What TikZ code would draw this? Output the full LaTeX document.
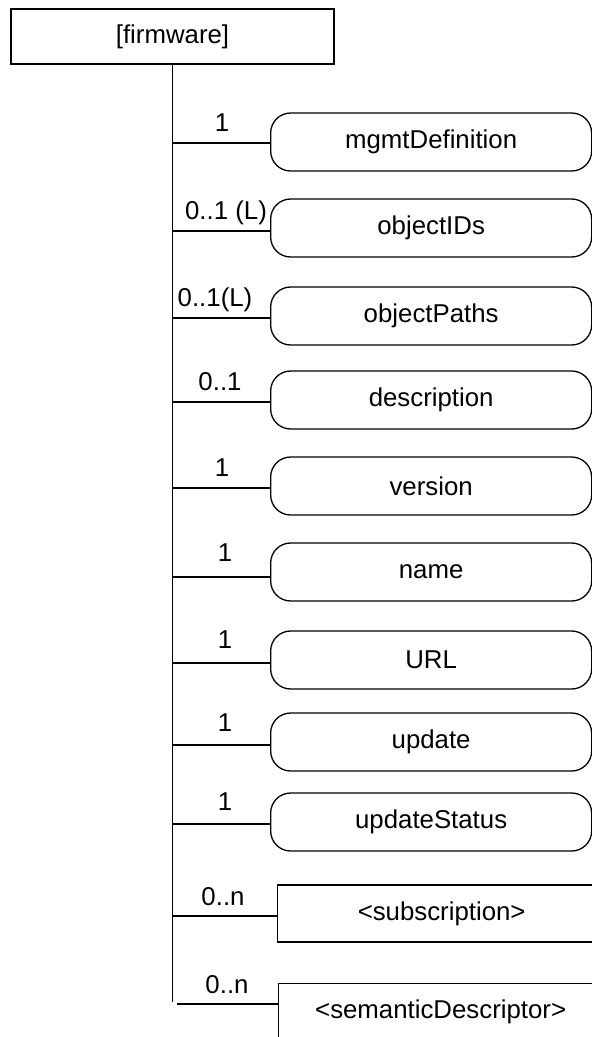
\documentclass[tikz,border=0pt]{standalone}
\usepackage{fontspec}
\setmainfont{Liberation Sans}
\begin{document}
\begin{tikzpicture}[x=1pt,y=-1pt,line width=1.3pt,
  every node/.style={font=\fontsize{25.8}{30}\selectfont},
  rbox/.style={draw,rounded corners=20pt,minimum width=321pt,minimum height=58pt,inner sep=0pt,anchor=west},
  sbox/.style={draw,minimum height=57pt,inner sep=0pt,anchor=west},
  mult/.style={anchor=base,inner sep=0pt}]
\useasboundingbox (0,0) rectangle (592,1037);
\clip (0,0) rectangle (592,1037);

\node[draw,minimum width=323pt,minimum height=55pt,inner sep=0pt] (fw) at (172.5,36.5) {[firmware]};
\coordinate (tend) at (172,1002);
\draw (fw.south) -- (fw.south |- tend);

% rows
\node[rbox] (m1) at (270,142) {mgmtDefinition};
\node[rbox] (m2) at (270,228) {objectIDs};
\node[rbox] (m3) at (270,316) {objectPaths};
\node[rbox] (m4) at (270,400) {description};
\node[rbox] (m5) at (270,486) {version};
\node[rbox] (m6) at (270,572) {name};
\node[rbox] (m7) at (270,660) {URL};
\node[rbox] (m8) at (270,742) {update};
\node[rbox] (m9) at (270,822) {updateStatus};
\node[sbox,minimum width=328pt] (s1) at (277,913.5) {{<}subscription{>}};
\node[sbox,minimum width=324pt] (s2) at (278,1012) {{<}semanticDescriptor{>}};

\coordinate (t1) at (172,143);
\coordinate (t2) at (172,231);
\coordinate (t3) at (172,318);
\coordinate (t4) at (172,402);
\coordinate (t5) at (172,488);
\coordinate (t6) at (172,577);
\coordinate (t7) at (172,663);
\coordinate (t8) at (172,745);
\coordinate (t9) at (172,824);
\coordinate (t10) at (172,916);
\coordinate (t11) at (177,1004);

\draw (t1) -- (t1 -| m1.west);
\draw (t2) -- (t2 -| m2.west);
\draw (t3) -- (t3 -| m3.west);
\draw (t4) -- (t4 -| m4.west);
\draw (t5) -- (t5 -| m5.west);
\draw (t6) -- (t6 -| m6.west);
\draw (t7) -- (t7 -| m7.west);
\draw (t8) -- (t8 -| m8.west);
\draw (t9) -- (t9 -| m9.west);
\draw (t10) -- (t10 -| s1.west);
\draw (t11) -- (t11 -| s2.west);

\node[mult] (l1) at (222,131) {1};
\node[mult] (l2) at (226,219) {0..1 (L)};
\node[mult] (l3) at (215,306) {0..1(L)};
\node[mult] (l4) at (220,390) {0..1};
\node[mult] (l5) at (222,476) {1};
\node[mult] (l6) at (225,561) {1};
\node[mult] (l7) at (225,648) {1};
\node[mult] (l8) at (225,731) {1};
\node[mult] (l9) at (225,810) {1};
\node[mult] (l10) at (223,905) {0..n};
\node[mult] (l11) at (227,993) {0..n};
\end{tikzpicture}
\end{document}
